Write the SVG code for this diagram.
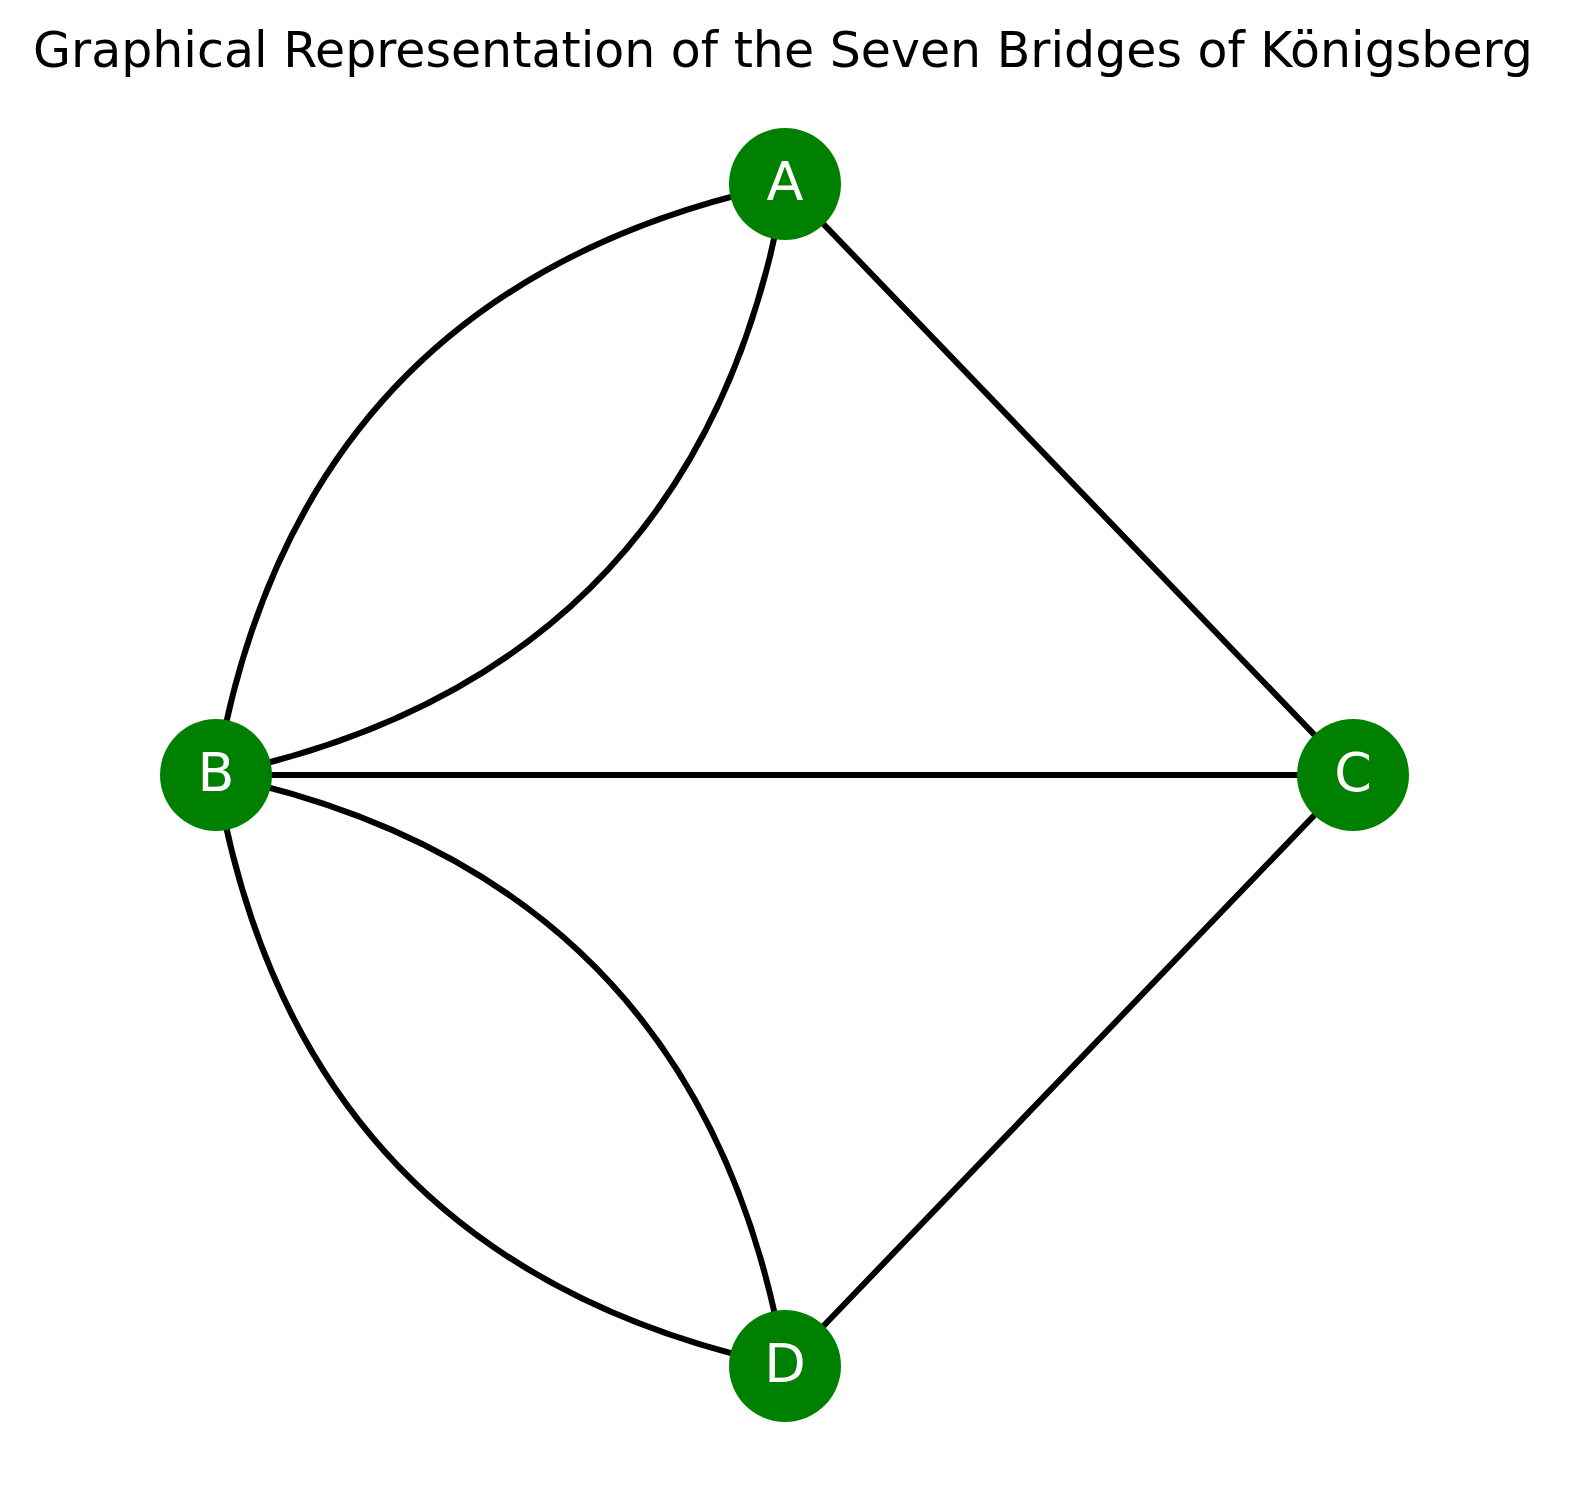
<svg xmlns="http://www.w3.org/2000/svg" width="1591" height="1509" viewBox="0 0 1591 1509">
<style>
.e{fill:none;stroke:#000;stroke-width:6}
.n{fill:#008000}
.l{fill:#fff;font-family:"DejaVu Sans",sans-serif;font-size:54px;text-anchor:middle;dominant-baseline:central}
</style>
<rect width="1591" height="1509" fill="#fff"/>
<text x="783" y="50" font-family="DejaVu Sans, sans-serif" font-size="49" text-anchor="middle" dominant-baseline="central">Graphical Representation of the Seven Bridges of Königsberg</text>
<g id="edges">
<path class="e" d="M216 775 Q298 286 785 184"/>
<path class="e" d="M216 775 Q702 674 785 184"/>
<path class="e" d="M216 775 Q298 1264 785 1366"/>
<path class="e" d="M216 775 Q702 876 785 1366"/>
<path class="e" d="M216 775 L1353 775"/>
<path class="e" d="M785 184 L1353 775"/>
<path class="e" d="M1353 775 L785 1366"/>
</g>
<g id="A"><circle class="n" cx="785" cy="184" r="56"/><text class="l" x="785" y="181">A</text></g>
<g id="B"><circle class="n" cx="216" cy="775" r="56"/><text class="l" x="216" y="772">B</text></g>
<g id="C"><circle class="n" cx="1353" cy="775" r="56"/><text class="l" x="1353" y="772">C</text></g>
<g id="D"><circle class="n" cx="785" cy="1366" r="56"/><text class="l" x="785" y="1363">D</text></g>
</svg>
